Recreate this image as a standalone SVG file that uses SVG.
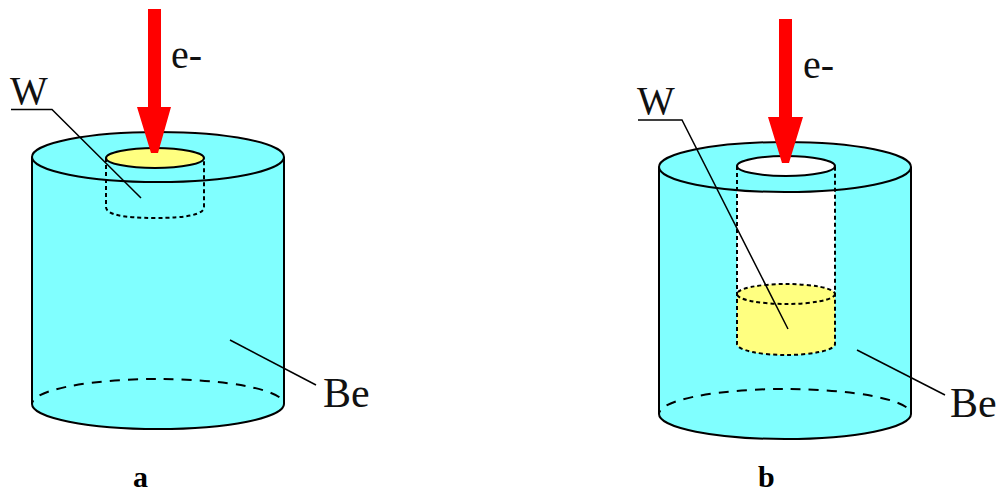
<svg xmlns="http://www.w3.org/2000/svg" width="1000" height="492" viewBox="0 0 1000 492">
<style>
.o{stroke:#000;stroke-width:2;fill:none}
.d{stroke:#000;stroke-width:2;fill:none;stroke-dasharray:4 3}
.bd{stroke:#000;stroke-width:2;fill:none;stroke-dasharray:10 8;stroke-dashoffset:-12}
.l{stroke:#000;stroke-width:1.5;fill:none}
.c{fill:#80ffff}
.y{fill:#ffff80}
.r{fill:#f00}
.t{font-family:"Liberation Serif","Times New Roman",serif;font-size:40px;fill:#111}
.be{font-size:42px}
.b{font-family:"Liberation Serif","Times New Roman",serif;font-size:30px;font-weight:bold;fill:#000}
</style>
<g id="cylinder-a">
<path class="c" d="M32 157A126 24 0 0 1 284 157V404A126 25 0 0 1 32 404Z"/>
<path class="o" d="M32 157V404A126 25 0 0 0 284 404V157"/>
<ellipse class="o" cx="158" cy="157" rx="126" ry="25"/>
<path class="bd" d="M32 404A126 25 0 0 1 284 404"/>
</g>
<g id="tungsten-a">
<ellipse class="y" cx="155" cy="158" rx="49" ry="10"/>
<ellipse class="o" cx="155" cy="158" rx="49" ry="10"/>
<path class="d" d="M106 158V207Q106 218 155 218T204 207V158"/>
</g>
<g id="cylinder-b">
<path class="c" d="M659 167A126 24 0 0 1 911 167V414A126 25 0 0 1 659 414Z"/>
<path d="M737 190Q786 194 835 190V294H737Z" fill="#fff"/>
<path class="o" d="M659 167V414A126 25 0 0 0 911 414V167"/>
<ellipse class="o" cx="785" cy="167" rx="126" ry="25"/>
<path class="bd" d="M659 414A126 25 0 0 1 911 414"/>
</g>
<g id="tungsten-b">
<ellipse cx="786" cy="166" rx="49" ry="10" fill="#fff" stroke="#000" stroke-width="2"/>
<path class="y" d="M737 294A49 10 0 0 1 835 294V344A49 11 0 0 1 737 344Z"/>
<path class="d" d="M737 166V344A49 11 0 0 0 835 344V166"/>
<ellipse class="d" cx="786" cy="294" rx="49" ry="10"/>
</g>
<g id="connectors">
<path class="l" d="M11 109.500H52L141 198"/>
<path class="l" d="M230 340L316 385"/>
<path class="l" d="M638 120H682L788 329"/>
<path class="l" d="M857 350L945 395"/>
<path class="r" d="M148 9H161V107H171L158 153H151L137 107H148Z"/>
<path class="r" d="M779 19H792V117H803L789 163H782L768 117H779Z"/>
</g>
<g id="labels">
<text class="t" x="10" y="104">W</text>
<text class="t" x="171" y="68">e-</text>
<text class="t be" x="323" y="407">Be</text>
<text class="b" x="133" y="487">a</text>
<text class="t" x="637" y="114">W</text>
<text class="t" x="803" y="78">e-</text>
<text class="t be" x="950" y="417">Be</text>
<text class="b" x="758" y="487">b</text>
</g>
</svg>
